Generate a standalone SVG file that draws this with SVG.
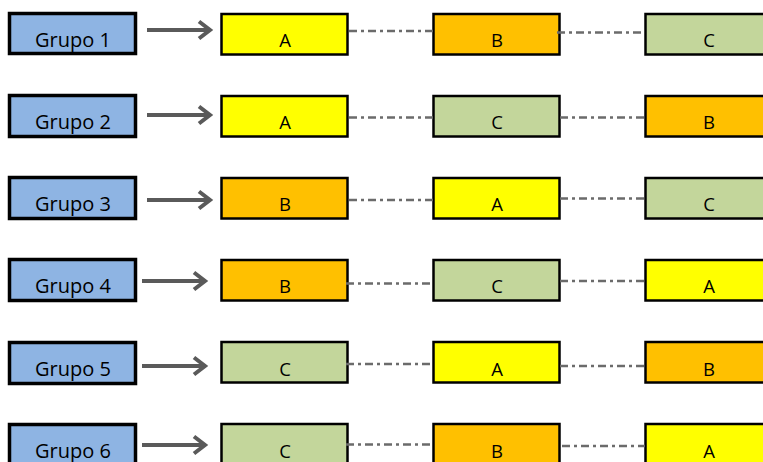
<svg xmlns="http://www.w3.org/2000/svg" width="763" height="462" viewBox="0 0 763 462">
  <style>
    .grp rect { fill: #8EB4E3; stroke: #000; stroke-width: 3.5; }
    .box rect { stroke: #000; stroke-width: 2.5; }
    .a rect { fill: #FFFF00; }
    .b rect { fill: #FFC000; }
    .c rect { fill: #C3D69B; }
    text { font-family: "Open Sans", "Liberation Sans", sans-serif; fill: #000; text-anchor: middle; }
    .grp text { font-size: 20px; }
    .box text { font-size: 18.5px; }
    .arrow { stroke: #5A5A5A; stroke-width: 4; fill: none; stroke-linecap: butt; stroke-linejoin: miter; }
    .link { stroke: #6B6B6B; stroke-width: 2.5; fill: none; stroke-dasharray: 8 4 3 4; }
  </style>

  <!-- group labels -->
  <g id="grupo1" class="grp"><rect x="9.5" y="13.5" width="126" height="40"/><text x="73" y="46.5">Grupo 1</text></g>
  <g id="grupo2" class="grp"><rect x="9.5" y="95.5" width="126" height="41"/><text x="73" y="128.5">Grupo 2</text></g>
  <g id="grupo3" class="grp"><rect x="9.5" y="177.5" width="126" height="41"/><text x="73" y="210.5">Grupo 3</text></g>
  <g id="grupo4" class="grp"><rect x="9.5" y="259.5" width="126" height="41"/><text x="73" y="292.5">Grupo 4</text></g>
  <g id="grupo5" class="grp"><rect x="9.5" y="342.5" width="126" height="41"/><text x="73" y="375.5">Grupo 5</text></g>
  <g id="grupo6" class="grp"><rect x="9.5" y="424.5" width="126" height="41"/><text x="73" y="457.5">Grupo 6</text></g>

  <!-- row 1 -->
  <g id="r1c1" class="box a"><rect x="221.5" y="14" width="126" height="40.5"/><text x="285" y="46.5">A</text></g>
  <g id="r1c2" class="box b"><rect x="433.5" y="14" width="126" height="40.5"/><text x="497" y="46.5">B</text></g>
  <g id="r1c3" class="box c"><rect x="645.5" y="14" width="126" height="40.5"/><text x="709" y="46.5">C</text></g>
  <!-- row 2 -->
  <g id="r2c1" class="box a"><rect x="221.5" y="96" width="126" height="40.5"/><text x="285" y="128.5">A</text></g>
  <g id="r2c2" class="box c"><rect x="433.5" y="96" width="126" height="40.5"/><text x="497" y="128.5">C</text></g>
  <g id="r2c3" class="box b"><rect x="645.5" y="96" width="126" height="40.5"/><text x="709" y="128.5">B</text></g>
  <!-- row 3 -->
  <g id="r3c1" class="box b"><rect x="221.5" y="178" width="126" height="40.5"/><text x="285" y="210.5">B</text></g>
  <g id="r3c2" class="box a"><rect x="433.5" y="178" width="126" height="40.5"/><text x="497" y="210.5">A</text></g>
  <g id="r3c3" class="box c"><rect x="645.5" y="178" width="126" height="40.5"/><text x="709" y="210.5">C</text></g>
  <!-- row 4 -->
  <g id="r4c1" class="box b"><rect x="221.5" y="260" width="126" height="40.5"/><text x="285" y="292.5">B</text></g>
  <g id="r4c2" class="box c"><rect x="433.5" y="260" width="126" height="40.5"/><text x="497" y="292.5">C</text></g>
  <g id="r4c3" class="box a"><rect x="645.5" y="260" width="126" height="40.5"/><text x="709" y="292.5">A</text></g>
  <!-- row 5 -->
  <g id="r5c1" class="box c"><rect x="221.5" y="342" width="126" height="40.5"/><text x="285" y="375.5">C</text></g>
  <g id="r5c2" class="box a"><rect x="433.5" y="342" width="126" height="40.5"/><text x="497" y="375.5">A</text></g>
  <g id="r5c3" class="box b"><rect x="645.5" y="342" width="126" height="40.5"/><text x="709" y="375.5">B</text></g>
  <!-- row 6 -->
  <g id="r6c1" class="box c"><rect x="221.5" y="424" width="126" height="40.5"/><text x="285" y="457.5">C</text></g>
  <g id="r6c2" class="box b"><rect x="433.5" y="424" width="126" height="40.5"/><text x="497" y="457.5">B</text></g>
  <g id="r6c3" class="box a"><rect x="645.5" y="424" width="126" height="40.5"/><text x="709" y="457.5">A</text></g>

  <!-- connectors -->
  <g id="connectors">
    <path class="arrow" d="M147 30H209M199 21.5L210 30L199 38.5"/>
    <path class="arrow" d="M147 115H209M199 106.5L210 115L199 123.5"/>
    <path class="arrow" d="M147 200H209M199 191.5L210 200L199 208.5"/>
    <path class="arrow" d="M142 281H204M194 272.5L205 281L194 289.5"/>
    <path class="arrow" d="M142 366H204M194 357.5L205 366L194 374.5"/>
    <path class="arrow" d="M142 445H204M194 436.5L205 445L194 453.5"/>

    <path class="link" d="M349 31H433"/>
    <path class="link" d="M557 32.5H645"/>
    <path class="link" d="M349 117.5H433"/>
    <path class="link" d="M560 117.5H645"/>
    <path class="link" d="M349 200H433"/>
    <path class="link" d="M560 198.5H645"/>
    <path class="link" d="M346 283.5H433"/>
    <path class="link" d="M560 281H645"/>
    <path class="link" d="M346 364H433"/>
    <path class="link" d="M560 366H645"/>
    <path class="link" d="M346 444.5H433"/>
    <path class="link" d="M562 446H645"/>
  </g>
</svg>
